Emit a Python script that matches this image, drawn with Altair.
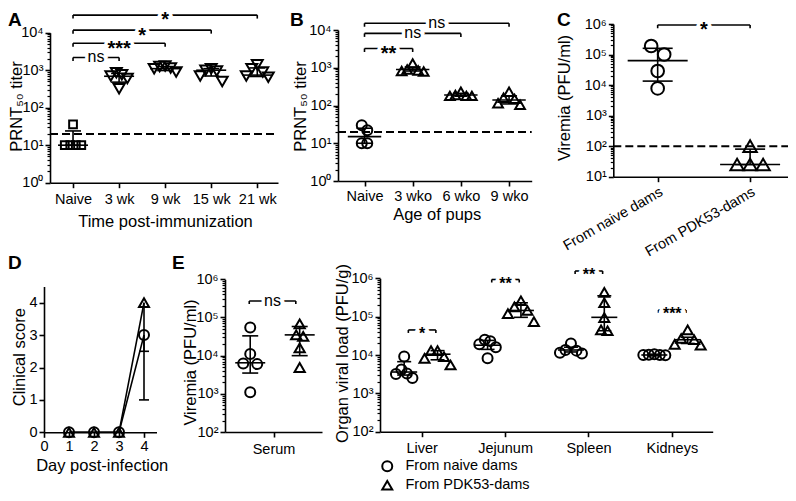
import json
import numpy as np
import pandas as pd
import altair as alt

FONT = "Liberation Sans"
LW = 1.6

# ================= DATA =================
# Panel A
A_groups = ["Naive", "3 wk", "9 wk", "15 wk", "21 wk"]
A_naive = [10, 10, 36, 10, 10]
A_3wk = [850, 760, 700, 600, 320]
A_9wk = [1300, 1250, 1150, 1100, 900]
A_15wk = [1100, 1000, 950, 700, 500]
A_21wk = [1400, 1100, 900, 700, 650]
A_center = [10, 690, 1100, 1000, 740]
A_low = [10, 480, 980, 700, 680]
A_high = [24, 820, 1250, 1100, 1150]
A_limit = 20
A_brk_from = [0, 0, 0, 0]
A_brk_to = [4, 3, 2, 1]
A_brk_y = [29500, 11700, 5250, 2190]
A_brk_label = ["*", "*", "***", "ns"]

# Panel B
B_groups = ["Naive", "3 wko", "6 wko", "9 wko"]
B_naive = [22, 30, 10, 10]
B_3wko = [800, 820, 1300, 900, 850]
B_6wko = [180, 180, 230, 190, 180]
B_9wko = [150, 230, 105, 115, 160]
B_center = [15, 900, 190, 140]
B_low = [10, 820, 180, 110]
B_high = [25, 1050, 210, 180]
B_limit = 20
B_brk_from = [0, 0, 0]
B_brk_to = [3, 2, 1]
B_brk_y = [15100, 8130, 3240]
B_brk_label = ["ns", "ns", "**"]

# Panel C
C_groups = ["From naive dams", "From PDK53-dams"]
C_naive = [190000, 100000, 29000, 7800]
C_pdk = [25, 100, 25, 25]
C_center = [63000, 25]
C_low = [13500, 25]
C_high = [160000, 80]
C_limit = 100
C_brk_y = [930000]
C_brk_label = ["*"]

# Panel D
D_days = [1, 2, 3, 4]
D_naive = [0, 0, 0, 3]
D_pdk = [0, 0, 0, 4]
D_naive_low = 1
D_pdk_low = 2.5

# Panel E - serum
Es_naive = [55000, 11000, 6200, 6000, 1100]
Es_pdk = [68000, 35000, 32000, 16000, 4900]
Es_center = [6500, 35000]
Es_low = [3500, 10000]
Es_high = [33000, 58000]
Es_brk_y = [270000]
Es_brk_label = ["ns"]

# Panel E - organs
E_organs = ["Liver", "Jejunum", "Spleen", "Kidneys"]
Eo_naive = [
    [9100, 4200, 3300, 3200, 2500],
    [25000, 23000, 19000, 16000, 8200],
    [20000, 13500, 13000, 11500, 11000],
    [10500, 10200, 10000, 10000, 9800],
]
Eo_pdk = [
    [13000, 13000, 9000, 8200, 5500],
    [260000, 180000, 145000, 120000, 74000],
    [430000, 230000, 94000, 45000, 43000],
    [45000, 27000, 25000, 19000, 18000],
]
Eo_naive_center = [3600, 18000, 13500, 10000]
Eo_naive_low = [3000, 14000, 12000, 9500]
Eo_naive_high = [6700, 24000, 16000, 10500]
Eo_pdk_center = [10500, 145000, 96000, 25000]
Eo_pdk_low = [7500, 96000, 43000, 20000]
Eo_pdk_high = [13000, 230000, 350000, 29000]
Eo_brk_y = [45000, 930000, 1550000, 150000]
Eo_brk_label = ["*", "**", "**", "***"]

LEGEND = ["From naive dams", "From PDK53-dams"]

SUP_EXPR = ("'10' + ['\u2070','\u00b9','\u00b2','\u00b3','\u2074','\u2075','\u2076']"
            "[round(log(datum.value) / LN10)]")


# ================= helpers =================
class Panel:
    def __init__(self, xdom, xrng, ydom, yrng, ylog=True):
        self.xdom = xdom
        self.xs = alt.Scale(domain=xdom, range=xrng, nice=False, zero=False)
        if ylog:
            self.ys = alt.Scale(type="log", domain=ydom, range=yrng, nice=False)
            self.ppd = (yrng[0] - yrng[1]) / (np.log10(ydom[1]) - np.log10(ydom[0]))
        else:
            self.ys = alt.Scale(domain=ydom, range=yrng, nice=False, zero=False)
            self.ppd = (yrng[0] - yrng[1]) / (ydom[1] - ydom[0])
        self.ydom = ydom
        self.ppu = (xrng[1] - xrng[0]) / (xdom[1] - xdom[0])

    def X(self, f, axis=None):
        return alt.X(f, type="quantitative", scale=self.xs, axis=axis)

    def Y(self, f, axis=None):
        return alt.Y(f, type="quantitative", scale=self.ys, axis=axis)


def slot_order(k):
    return sorted([j - (k - 1) / 2 for j in range(k)], key=lambda v: (abs(v), v))


def swarm(vals, ppd, diam, step):
    """Spread points that would overlap (GraphPad-like scatter), in pixels."""
    t = [np.log10(v) * ppd for v in vals]
    order = sorted(range(len(vals)), key=lambda i: -t[i])
    offs = [0.0] * len(vals)
    clusters, cur = [], [order[0]]
    for a, b in zip(order, order[1:]):
        if t[a] - t[b] < diam:
            cur.append(b)
        else:
            clusters.append(cur)
            cur = [b]
    clusters.append(cur)
    for c in clusters:
        for i, s in zip(c, slot_order(len(c))):
            offs[i] = s * step
    return offs


def scatter_frame(p, groups, centers, diam, step, label=None):
    rows = []
    for gi, (vals, c) in enumerate(zip(groups, centers)):
        offs = swarm(vals, p.ppd, diam, step)
        for v, o in zip(vals, offs):
            rows.append({"x": c + o / p.ppu, "y": v, "k": gi, "grp": label})
    return pd.DataFrame(rows)


def summary_layers(p, centers, mid, lo, hi, hw_px, cap_px):
    hw, cp = hw_px / p.ppu, cap_px / p.ppu
    df = pd.DataFrame({
        "x": centers, "xl": [c - hw for c in centers], "xr": [c + hw for c in centers],
        "cl": [c - cp for c in centers], "cr": [c + cp for c in centers],
        "m": mid, "lo": lo, "hi": hi,
    })
    base = alt.Chart(df)
    rule = dict(color="black", strokeWidth=LW)
    return [
        base.mark_rule(**rule).encode(x=p.X("xl"), x2="xr", y=p.Y("m")),
        base.mark_rule(**rule).encode(x=p.X("x"), y=p.Y("lo"), y2="hi"),
        base.mark_rule(**rule).encode(x=p.X("cl"), x2="cr", y=p.Y("lo")),
        base.mark_rule(**rule).encode(x=p.X("cl"), x2="cr", y=p.Y("hi")),
    ]


def limit_layer(p, value, axes):
    df = pd.DataFrame({"x1": [p.xdom[0]], "x2": [p.xdom[1]], "y": [value]})
    return alt.Chart(df).mark_rule(color="black", strokeWidth=2, strokeDash=[8, 4]).encode(
        x=p.X("x1", axes[0]), x2="x2", y=p.Y("y", axes[1]))


def bracket_layers(p, x1, x2, y, labels, drop_px, fs_star, fs_ns):
    drop = 10 ** (-drop_px / p.ppd)
    df = pd.DataFrame({"x1": x1, "x2": x2, "y": y, "yd": [v * drop for v in y],
                       "xm": [(a + b) / 2 for a, b in zip(x1, x2)], "lab": labels})
    base = alt.Chart(df)
    rule = dict(color="black", strokeWidth=LW)
    layers = [
        base.mark_rule(**rule).encode(x=p.X("x1"), x2="x2", y=p.Y("y")),
        base.mark_rule(**rule).encode(x=p.X("x1"), y=p.Y("y"), y2="yd"),
        base.mark_rule(**rule).encode(x=p.X("x2"), y=p.Y("y"), y2="yd"),
    ]
    stars = df[df["lab"] != "ns"]
    ns = df[df["lab"] == "ns"]
    for sub, fs, dy, wt in [(stars, fs_star, 0.27 * fs_star, "bold"), (ns, fs_ns, 0, "normal")]:
        if len(sub) == 0:
            continue
        c = alt.Chart(sub)
        common = dict(font=FONT, fontSize=fs, fontWeight=wt, dy=dy, baseline="middle", align="center")
        layers.append(c.mark_text(color="white", stroke="white", strokeWidth=7, **common).encode(
            x=p.X("xm"), y=p.Y("y"), text="lab:N"))
        layers.append(c.mark_text(color="black", **common).encode(
            x=p.X("xm"), y=p.Y("y"), text="lab:N"))
    return layers


def points(p, df, shape, size, axes=(None, None)):
    return alt.Chart(df).mark_point(shape=shape, size=size, filled=False, strokeWidth=2,
                                    color="black", opacity=1).encode(
        x=p.X("x", axes[0]), y=p.Y("y", axes[1]))


def y_axis(offset, values, title, tx, ty, sup=True):
    kw = dict(orient="left", offset=offset, values=values, title=title, titleX=tx, titleY=ty,
              titleAngle=270, titleAlign="center", titleBaseline="middle", tickSize=5)
    if sup:
        kw["labelExpr"] = SUP_EXPR
    else:
        kw["format"] = "d"
    return alt.Axis(**kw)


def x_axis(offset, values, names=None, title=None, tx=0, ty=0, **extra):
    kw = dict(orient="bottom", offset=offset, values=values, tickSize=5, labelPadding=5)
    if names is not None:
        kw["labelExpr"] = "%s[round(datum.value)]" % json.dumps(names, ensure_ascii=False)
    else:
        kw["format"] = "d"
    if title is not None:
        kw.update(title=title, titleX=tx, titleY=ty, titleBaseline="middle", titleAlign="center")
    else:
        kw["title"] = None
    kw.update(extra)
    return alt.Axis(**kw)


def minor_layer(p, offset):
    e0, e1 = int(round(np.log10(p.ydom[0]))), int(round(np.log10(p.ydom[1])))
    vals = [m * 10 ** e for e in range(e0, e1) for m in range(2, 10)]
    df = pd.DataFrame({"y": [p.ydom[0]]})
    return alt.Chart(df).mark_point(opacity=0).encode(
        y=alt.Y("y", type="quantitative", scale=p.ys,
                axis=alt.Axis(orient="left", offset=offset, values=vals, labels=False,
                              domain=False, tickSize=3, tickWidth=1.2, title=None)))


def letter(txt, x, y):
    return alt.Chart(pd.DataFrame({"t": [txt]})).mark_text(
        font=FONT, fontSize=19, fontWeight="bold", align="left", baseline="top",
        color="black").encode(text="t:N", x=alt.value(x), y=alt.value(y))


layers = []

# ================= Panel A =================
pA = Panel([-0.5, 4.45], [42, 270], [1, 1e4], [174.7, 24.7])
A_pts = scatter_frame(pA, [A_naive, A_3wk, A_9wk, A_15wk, A_21wk], list(range(5)), 9, 5.5)
A_axes = (x_axis(-310.3, list(range(5)), A_groups, "Time post-immunization", 157, 38.5),
          y_axis(-42, [1, 10, 100, 1000, 10000], "PRNT\u2085\u2080 titer", -34, 98))
layers += [
    minor_layer(pA, -42),
    limit_layer(pA, A_limit, A_axes),
    points(pA, A_pts[A_pts["k"] == 0], "square", 60),
    points(pA, A_pts[A_pts["k"] > 0], "triangle-down", 120),
    *summary_layers(pA, list(range(5)), A_center, A_low, A_high, 15, 8),
    *bracket_layers(pA, A_brk_from, A_brk_to, A_brk_y, A_brk_label, 3.5, 20, 16),
]

# ================= Panel B =================
pB = Panel([-0.55, 3.47], [330, 523.7], [1, 1e4], [173, 22])
B_pts = scatter_frame(pB, [B_naive, B_3wko, B_6wko, B_9wko], list(range(4)), 9, 5.5)
B_axes = (x_axis(-312, list(range(4)), B_groups, "Age of pups", 428.7, 33, labelPadding=3),
          y_axis(-330, [1, 10, 100, 1000, 10000], "PRNT\u2085\u2080 titer", -38, 98))
layers += [
    minor_layer(pB, -330),
    limit_layer(pB, B_limit, B_axes),
    points(pB, B_pts[B_pts["k"] == 0], "circle", 100),
    points(pB, B_pts[B_pts["k"] > 0], "triangle-up", 95),
    *summary_layers(pB, list(range(4)), B_center, B_low, B_high, 16.7, 8),
    *bracket_layers(pB, B_brk_from, B_brk_to, B_brk_y, B_brk_label, 3.5, 20, 16),
]

# ================= Panel C =================
pC = Panel([-0.48, 1.41], [605.3, 780], [10, 1e6], [168.7, 16])
C_pts = scatter_frame(pC, [C_naive, C_pdk], [0, 1], 12, 13)
C_axes = (x_axis(-316.3, [0, 1], C_groups, None, labelAngle=330, labelAlign="right",
                 labelBaseline="top", labelPadding=3),
          y_axis(-605.3, [10, 100, 1000, 10000, 100000, 1000000], "Viremia (PFU/ml)", -48.8, 89.5))
layers += [
    minor_layer(pC, -605.3),
    limit_layer(pC, C_limit, C_axes),
    points(pC, C_pts[C_pts["k"] == 0], "circle", 160),
    points(pC, C_pts[C_pts["k"] == 1], "triangle-up", 180),
    *summary_layers(pC, [0, 1], C_center, C_low, C_high, 30, 15),
    *bracket_layers(pC, [0], [1], C_brk_y, C_brk_label, 3.3, 20, 16),
]

# ================= Panel D =================
pD = Panel([0, 4.5], [36, 148.5], [0, 4.5], [424.3, 278.5], ylog=False)
D_df = pd.DataFrame({
    "x": D_days + D_days,
    "y": D_naive + D_pdk,
    "grp": [LEGEND[0]] * len(D_days) + [LEGEND[1]] * len(D_days),
})
D_xa = x_axis(-60.7, [0, 1, 2, 3, 4], None, "Day post-infection", 93.7, 32.7, labelPadding=2)
D_ya = y_axis(-36, [0, 1, 2, 3, 4], "Clinical score", -25, 348.7, sup=False)
D_err = pd.DataFrame({"x": [4, 4], "lo": [D_naive_low, D_pdk_low], "hi": [D_naive[-1], D_pdk[-1]]})
D_err["cl"] = D_err["x"] - 5 / pD.ppu
D_err["cr"] = D_err["x"] + 5 / pD.ppu
layers += [
    alt.Chart(D_df).mark_line(color="black", strokeWidth=LW).encode(
        x=pD.X("x", D_xa), y=pD.Y("y", D_ya), detail="grp:N"),
    alt.Chart(D_err).mark_rule(color="black", strokeWidth=LW).encode(x=pD.X("x"), y=pD.Y("lo"), y2="hi"),
    alt.Chart(D_err).mark_rule(color="black", strokeWidth=LW).encode(x=pD.X("cl"), x2="cr", y=pD.Y("lo")),
    points(pD, D_df[D_df["grp"] == LEGEND[0]], "circle", 100),
    points(pD, D_df[D_df["grp"] == LEGEND[1]], "triangle-up", 100),
]

# ================= Panel E (serum) =================
pEs = Panel([-0.5, 0.5], [217, 314], [100, 1e6], [424, 271.3])
Es_c = [-0.24, 0.27]
Es_n = scatter_frame(pEs, [Es_naive], [Es_c[0]], 10, 7)
Es_p = scatter_frame(pEs, [Es_pdk], [Es_c[1]], 10, 7)
Es_axes = (x_axis(-61, [0], ["Serum"], None),
           y_axis(-217, [100, 1000, 10000, 100000, 1000000], "Viremia (PFU/ml)", -35, 354))
layers += [
    minor_layer(pEs, -217),
    points(pEs, Es_n, "circle", 100, Es_axes),
    points(pEs, Es_p, "triangle-up", 105),
    *summary_layers(pEs, Es_c, Es_center, Es_low, Es_high, 15, 8),
    *bracket_layers(pEs, [-0.25], [0.23], Es_brk_y, Es_brk_label, 3, 16, 16),
]

# ================= Panel E (organs) =================
pEo = Panel([-0.5, 3.49], [372, 704.7], [100, 1e6], [423.7, 270.3])
Eo_cn = [i - 0.21 for i in range(4)]
Eo_cp = [i + 0.19 for i in range(4)]
Eo_pts = pd.concat([
    scatter_frame(pEo, Eo_naive, Eo_cn, 9, 5.5, LEGEND[0]),
    scatter_frame(pEo, Eo_pdk, Eo_cp, 10, 6.5, LEGEND[1]),
])
Eo_xa = x_axis(-61.3, list(range(4)), E_organs, None)
Eo_ya = y_axis(-372, [100, 1000, 10000, 100000, 1000000], "Organ viral load (PFU/g)", -38, 345)
Eo_points = alt.Chart(Eo_pts).mark_point(size=100, filled=False, strokeWidth=2, color="black",
                                         opacity=1).encode(
    x=pEo.X("x", Eo_xa), y=pEo.Y("y", Eo_ya),
    shape=alt.Shape("grp:N", scale=alt.Scale(domain=LEGEND, range=["circle", "triangle-up"]),
                    legend=alt.Legend(orient="none", legendX=372, legendY=451, title=None,
                                      direction="vertical", symbolSize=100, symbolStrokeWidth=2,
                                      symbolStrokeColor="black", symbolFillColor="transparent",
                                      labelFont=FONT, labelFontSize=14.5, labelColor="black",
                                      rowPadding=0, labelOffset=11, padding=0)),
)
layers += [
    minor_layer(pEo, -372),
    Eo_points,
    *summary_layers(pEo, Eo_cn, Eo_naive_center, Eo_naive_low, Eo_naive_high, 13, 7),
    *summary_layers(pEo, Eo_cp, Eo_pdk_center, Eo_pdk_low, Eo_pdk_high, 13, 7),
    *bracket_layers(pEo, [i - 0.16 for i in range(4)], [i + 0.17 for i in range(4)],
                    Eo_brk_y, Eo_brk_label, 3, 16, 16),
]

layers += [
    letter("A", 0, 3), letter("B", 282, 3), letter("C", 549, 3),
    letter("D", 0, 246), letter("E", 164, 246),
]

chart = alt.layer(*layers).resolve_scale(
    x="independent", y="independent"
).properties(
    width=780, height=485, padding=0, autosize=alt.AutoSizeParams(type="none")
).configure_view(stroke=None).configure_axis(
    domainColor="black", domainWidth=LW, tickColor="black", tickWidth=LW,
    labelColor="black", labelFont=FONT, labelFontSize=14.5, labelPadding=2,
    titleFont=FONT, titleFontSize=16.5, titleFontWeight="normal", titleColor="black",
    grid=False, labelFlush=False, labelOverlap=False, labelBound=False,
)

chart.save("out.html", embed_options={"renderer": "svg", "actions": False})
